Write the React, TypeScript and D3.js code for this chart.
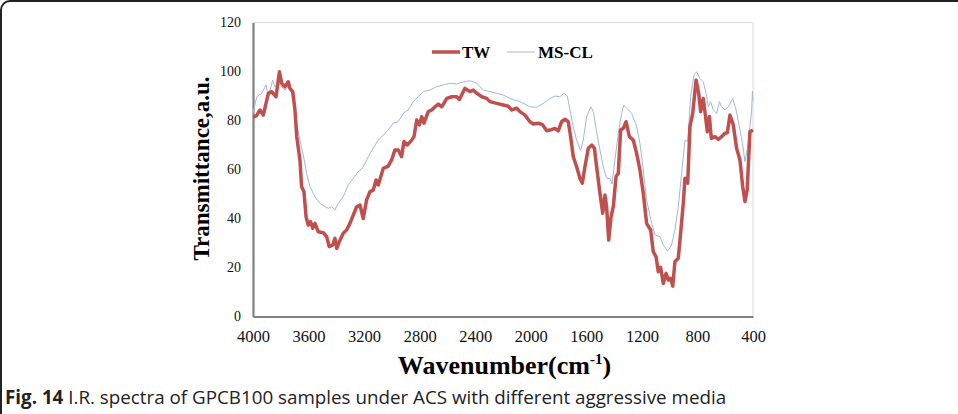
import React, { useEffect, useRef } from "react";
import * as d3 from "d3";

// TW sample (thick red)
const twWave = [4000, 3975, 3950, 3926, 3890, 3866, 3834, 3810, 3793, 3770, 3746, 3734, 3714, 3698, 3685, 3662, 3650, 3633, 3618, 3602, 3585, 3570, 3554, 3530, 3494, 3470, 3451, 3426, 3410, 3397, 3379, 3350, 3326, 3302, 3278, 3254, 3230, 3206, 3182, 3158, 3134, 3114, 3098, 3062, 3026, 3002, 2978, 2954, 2930, 2913, 2889, 2857, 2841, 2821, 2802, 2785, 2769, 2738, 2713, 2690, 2666, 2641, 2605, 2569, 2533, 2514, 2474, 2438, 2414, 2389, 2353, 2317, 2294, 2245, 2198, 2162, 2137, 2101, 2078, 2042, 2006, 1982, 1946, 1914, 1885, 1862, 1826, 1802, 1778, 1754, 1730, 1713, 1694, 1670, 1646, 1629, 1610, 1586, 1561, 1542, 1526, 1502, 1482, 1466, 1454, 1439, 1422, 1406, 1386, 1370, 1353, 1334, 1314, 1290, 1262, 1238, 1214, 1190, 1166, 1137, 1118, 1098, 1082, 1065, 1046, 1026, 1010, 993, 978, 962, 938, 921, 902, 890, 870, 854, 834, 810, 791, 777, 758, 743, 729, 714, 700, 674, 650, 626, 602, 585, 566, 542, 518, 494, 474, 458, 442, 422, 400];
const twValue = [81.3, 82, 84.3, 82.2, 91, 91.8, 89.7, 99.9, 95.2, 93.8, 95.8, 93.1, 91.8, 84.3, 73.4, 63.9, 53, 50.9, 40.7, 37.3, 38.7, 36, 38, 34.6, 34.2, 32.6, 28.5, 29.2, 31.9, 27.8, 30.5, 34, 35.3, 38, 41.4, 44.8, 45.5, 40, 47.6, 51, 51.6, 55.7, 53.7, 60.5, 61.4, 63.9, 68, 68, 65.2, 71.4, 70, 72, 73.4, 80.2, 78.2, 81.6, 78.9, 83.6, 84.3, 85.6, 86.7, 85.6, 89, 89.7, 89.7, 88.6, 93.1, 91.8, 92.4, 91.1, 89.7, 89, 87.7, 87, 86.3, 85.8, 84.3, 85, 83.6, 82.2, 79.5, 78.6, 78.9, 78.2, 75.8, 76.1, 76.8, 75.8, 79.5, 80.5, 79.5, 73.4, 65.2, 61.1, 56.4, 54.4, 61.1, 68.7, 70, 68.7, 61.1, 50.3, 42.1, 49.6, 44.8, 31.2, 40.7, 44.8, 57.1, 58.4, 76.1, 76.8, 79.5, 73.4, 72, 66.6, 59.8, 50.3, 38, 35.3, 26.4, 24.4, 18.3, 20.1, 13.5, 17.6, 14.9, 15.6, 12.4, 22.4, 23.8, 34, 46.2, 56.4, 54.4, 77.5, 82.9, 96.5, 91.1, 83.6, 89, 82.2, 75.4, 81.6, 72.7, 73.4, 72.3, 73.4, 74.8, 75, 82.2, 78.2, 68.7, 63.9, 53, 46.9, 51.6, 75.4, 76.1];

// MS-CL sample (thin blue)
const msWave = [4000, 3973, 3937, 3906, 3890, 3858, 3842, 3818, 3793, 3770, 3746, 3721, 3698, 3681, 3662, 3638, 3614, 3590, 3554, 3518, 3482, 3458, 3434, 3410, 3386, 3350, 3314, 3278, 3242, 3206, 3170, 3134, 3098, 3062, 3026, 2990, 2954, 2918, 2882, 2846, 2810, 2774, 2726, 2678, 2630, 2582, 2534, 2486, 2438, 2389, 2342, 2294, 2245, 2198, 2150, 2078, 2006, 1957, 1910, 1862, 1826, 1790, 1761, 1737, 1718, 1694, 1670, 1641, 1622, 1598, 1568, 1550, 1526, 1502, 1478, 1454, 1430, 1415, 1394, 1370, 1346, 1330, 1310, 1274, 1238, 1214, 1190, 1166, 1130, 1106, 1070, 1046, 1014, 986, 962, 938, 914, 890, 870, 849, 825, 806, 782, 758, 738, 722, 705, 686, 662, 642, 626, 602, 578, 546, 522, 498, 474, 458, 442, 422, 410, 404, 400];
const msValue = [82.9, 89.7, 91.1, 94.5, 89.7, 96.5, 93.8, 95.2, 93.8, 92.4, 93.8, 91.1, 84.3, 77.5, 72, 65.9, 58.4, 53, 48.9, 46.2, 44.8, 44.2, 44.8, 43.5, 46.2, 48.9, 53.7, 56.4, 59.1, 61.1, 65.2, 68.7, 72, 74.1, 76.1, 78.9, 79.5, 82.9, 84.3, 87.7, 89.7, 91.8, 92.4, 93.8, 94.5, 95.2, 94.9, 95.8, 96.2, 95.2, 92.4, 91.8, 91.1, 90.4, 89, 87.7, 85.6, 85.4, 87, 89, 90, 89.7, 91.1, 90, 84.3, 77.5, 72, 67.7, 72, 81.6, 85.6, 83.6, 75.4, 68, 61.1, 56.4, 56.4, 54.1, 63.9, 74.8, 82.9, 86.3, 85, 82.9, 77.5, 70.7, 59.8, 47.6, 38, 33.3, 32.6, 29.2, 26.7, 29.2, 35.3, 44.8, 58.4, 72, 71.4, 89.7, 98.6, 99.9, 97.2, 95.8, 91.1, 85.6, 87.7, 84.3, 82.9, 87.7, 85.6, 84.3, 85.6, 89, 84.3, 77.5, 70, 63.2, 68, 77.5, 84, 92, 88];

const xTicks = [4000, 3600, 3200, 2800, 2400, 2000, 1600, 1200, 800, 400];
const yTicks = [0, 20, 40, 60, 80, 100, 120];

export default function App() {
  const svgRef = useRef<SVGSVGElement>(null);

  useEffect(() => {
    const width = 958;
    const height = 414;
    const svg = d3.select(svgRef.current).attr("width", width).attr("height", height);
    svg.selectAll("*").remove();

    // figure frame
    svg
      .append("rect")
      .attr("x", 1)
      .attr("y", 1)
      .attr("width", 1000)
      .attr("height", 1000)
      .attr("rx", 9)
      .attr("fill", "white")
      .attr("stroke", "#222")
      .attr("stroke-width", 2);

    const x = d3.scaleLinear().domain([4000, 400]).range([253, 753]);
    const y = d3.scaleLinear().domain([0, 120]).range([316.5, 22.5]);

    // plot area border (top / right)
    svg
      .append("path")
      .attr("d", `M253,22.5H753V316.5`)
      .attr("fill", "none")
      .attr("stroke", "#d9d9d9")
      .attr("stroke-width", 1);

    const yAxis = svg
      .append("g")
      .attr("transform", "translate(253,0)")
      .call(d3.axisLeft(y).tickValues(yTicks).tickSize(0).tickPadding(12));
    yAxis.select(".domain").attr("stroke", "#808080").attr("stroke-width", 2.2);
    yAxis
      .selectAll("text")
      .attr("font-family", "'Liberation Serif', 'Times New Roman', serif")
      .attr("font-size", 14)
      .attr("fill", "#111");

    const xAxis = svg
      .append("g")
      .attr("transform", "translate(0,316.5)")
      .call(d3.axisBottom(x).tickValues(xTicks).tickSize(0).tickPadding(14).tickFormat(d3.format("d")));
    xAxis.select(".domain").attr("stroke", "#808080").attr("stroke-width", 2.2);
    xAxis
      .selectAll("text")
      .attr("font-family", "'Liberation Serif', 'Times New Roman', serif")
      .attr("font-size", 16.5)
      .attr("fill", "#111");

    const line = d3
      .line<[number, number]>()
      .x((d) => x(d[0]))
      .y((d) => y(d[1]));

    const msData = msWave.map((w, i) => [w, msValue[i]] as [number, number]);
    const twData = twWave.map((w, i) => [w, twValue[i]] as [number, number]);

    svg
      .append("path")
      .attr("d", line(msData))
      .attr("fill", "none")
      .attr("stroke", "#9fb8de")
      .attr("stroke-width", 1);

    svg
      .append("path")
      .attr("d", line(twData))
      .attr("fill", "none")
      .attr("stroke", "#c0504d")
      .attr("stroke-width", 3.5)
      .attr("stroke-linejoin", "round");

    // legend
    const serif = "'Liberation Serif', 'Times New Roman', serif";
    svg.append("line").attr("x1", 432).attr("x2", 460).attr("y1", 52).attr("y2", 52).attr("stroke", "#c0504d").attr("stroke-width", 3.5);
    svg.append("text").attr("x", 462).attr("y", 58).attr("font-family", serif).attr("font-weight", "bold").attr("font-size", 17).text("TW");
    svg.append("line").attr("x1", 507).attr("x2", 535).attr("y1", 52).attr("y2", 52).attr("stroke", "#9fb8de").attr("stroke-width", 1);
    svg.append("text").attr("x", 538).attr("y", 58).attr("font-family", serif).attr("font-weight", "bold").attr("font-size", 17).text("MS-CL");

    // axis titles
    svg
      .append("text")
      .attr("transform", "translate(209,168.5) rotate(-90)")
      .attr("text-anchor", "middle")
      .attr("font-family", serif)
      .attr("font-weight", "bold")
      .attr("font-size", 23)
      .text("Transmittance,a.u.");

    const xt = svg
      .append("text")
      .attr("x", 504.5)
      .attr("y", 374)
      .attr("text-anchor", "middle")
      .attr("font-family", serif)
      .attr("font-weight", "bold")
      .attr("font-size", 26);
    xt.append("tspan").text("Wavenumber(cm");
    xt.append("tspan").attr("font-size", 15).attr("dy", -10).text("-1");
    xt.append("tspan").attr("dy", 10).text(")");

    // caption
    const cap = svg
      .append("text")
      .attr("x", 5)
      .attr("y", 404)
      .attr("font-family", "'Open Sans', 'Noto Sans', sans-serif")
      .attr("font-size", 18.8)
      .attr("fill", "#222");
    cap.append("tspan").attr("font-weight", "bold").text("Fig. 14");
    cap.append("tspan").text(" I.R. spectra of GPCB100 samples under ACS with different aggressive media");
  }, []);

  return (
    <div>
      <svg ref={svgRef} style={{ position: "absolute", left: 0, top: 0, display: "block" }}></svg>
    </div>
  );
}
